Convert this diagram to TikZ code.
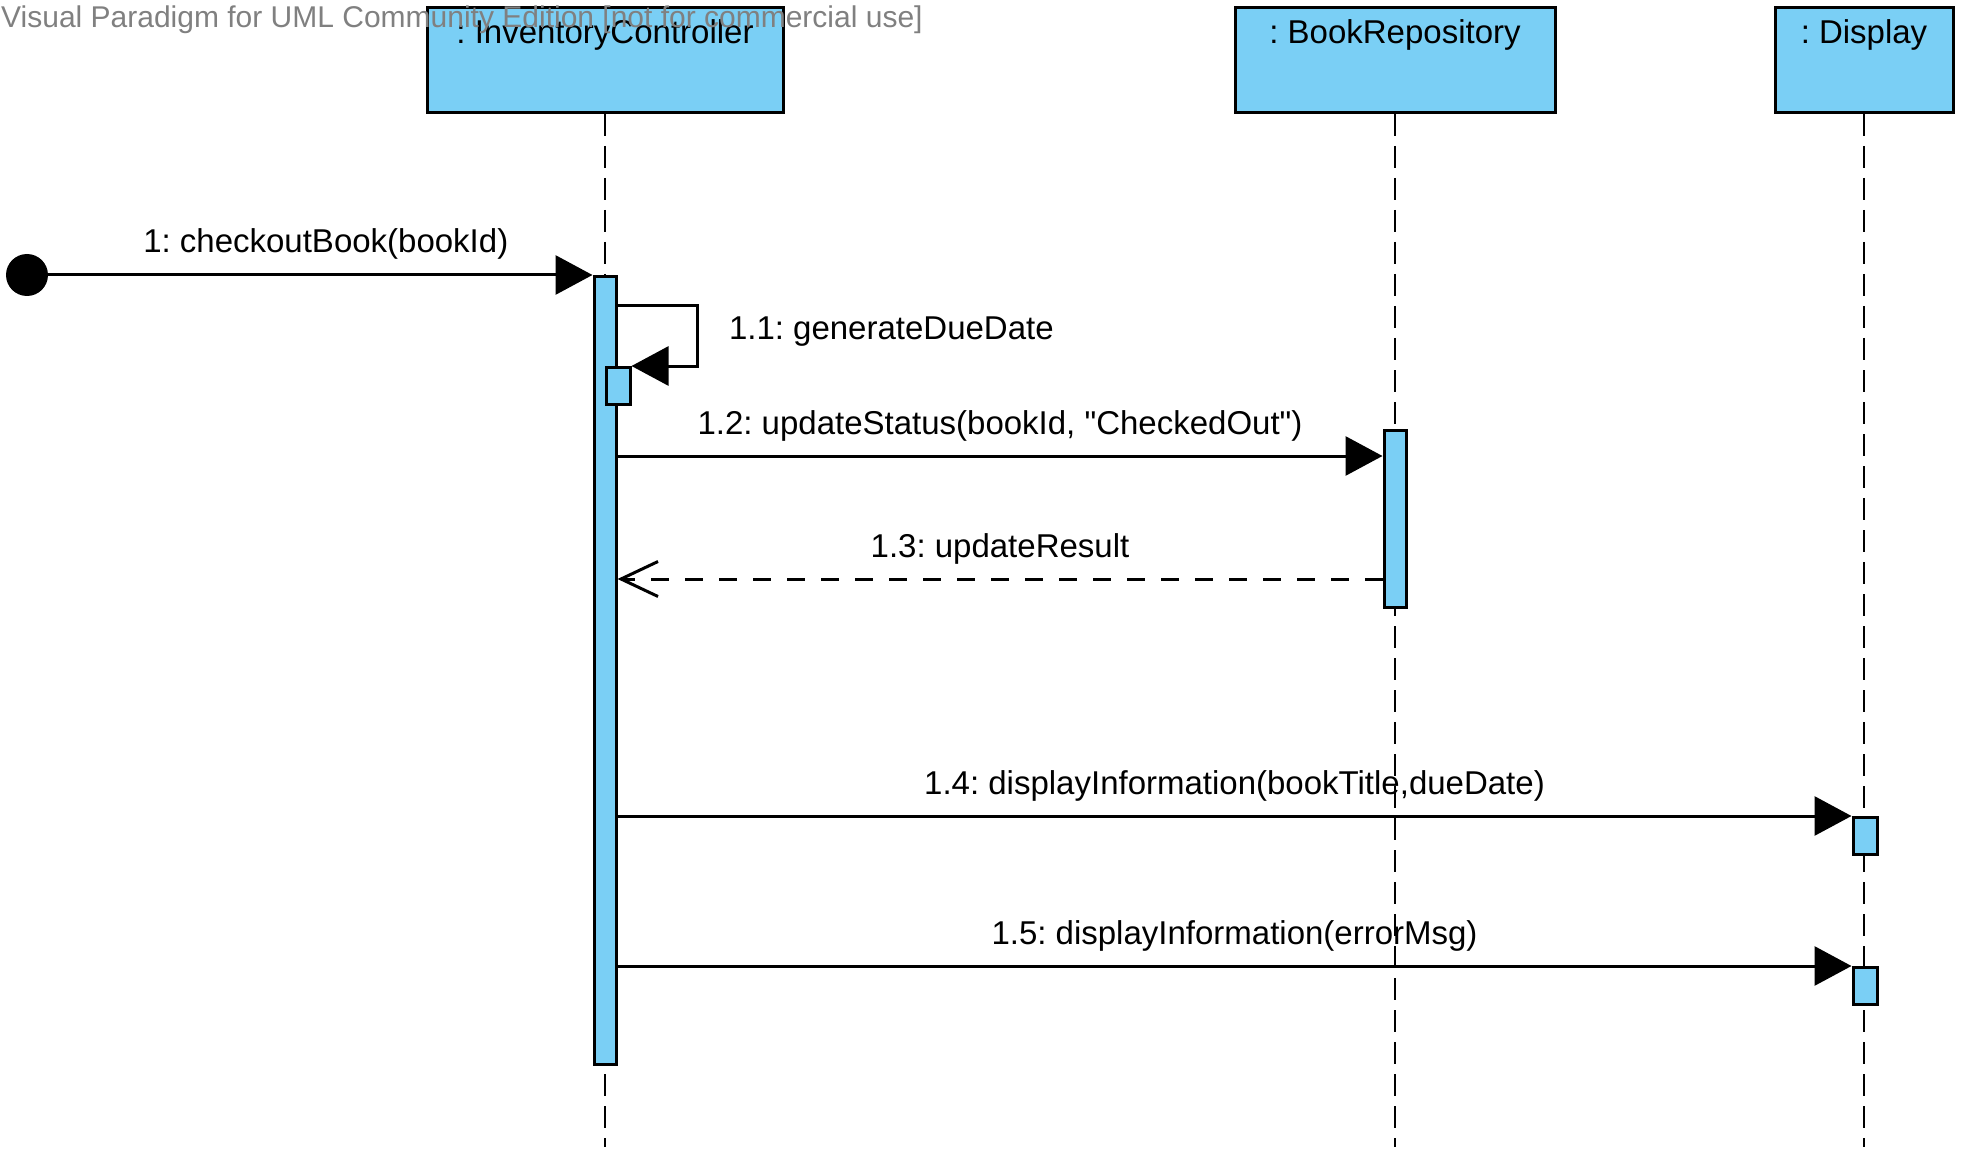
\documentclass[tikz,border=0pt]{standalone}
\usepackage{fontspec}
\setmainfont{Liberation Sans}
\usepackage{tikz}
\usetikzlibrary{arrows.meta, calc}

\definecolor{vpblue}{RGB}{122,207,245}
\definecolor{vpgray}{RGB}{128,128,128}
\newcommand\msgfont{\fontsize{33}{40}\selectfont}
\newcommand\wmfont{\fontsize{30}{36}\selectfont}
\frenchspacing

\begin{document}
\begin{tikzpicture}[
    x=1pt, y=-1pt,
    head/.style   = {draw, line width=3pt, fill=vpblue, anchor=north,
                     minimum height=105pt, inner ysep=0pt,
                     text height=36pt, text depth=69pt, font=\msgfont},
    act/.style    = {draw, line width=3pt, fill=vpblue, anchor=north,
                     minimum width=22pt, inner sep=0pt},
    life/.style   = {line width=2.5pt, dash pattern=on 22pt off 10pt},
    msg/.style    = {line width=3pt, -{Triangle[length=37pt, width=39pt]}},
    ret/.style    = {line width=3pt, dash pattern=on 18pt off 16pt,
                     -{Straight Barb[length=37pt, width=35pt]}},
    lbl/.style    = {font=\msgfont, inner sep=0pt},
    msglbl/.style = {lbl, anchor=base, yshift=22pt},
  ]
  \useasboundingbox (0,0) rectangle (1968,1158);

  \node[head, minimum width=356pt] (ic)   at (605,6)  {: InventoryController};
  \node[head, minimum width=320pt] (repo) at (1395,6) {: BookRepository};
  \node[head, minimum width=178pt] (disp) at (1864,6) {: Display};

  \coordinate (icEnd)   at (605,1147);
  \coordinate (repoEnd) at (1395,1147);
  \coordinate (dispEnd) at (1864,1147);
  \draw[life] (ic) -- (icEnd);
  \draw[life] (repo) -- (repoEnd);
  \draw[life] (disp) -- (dispEnd);

  \node[circle, fill, minimum size=42pt, inner sep=0pt] (init) at (27,275) {};

  \node[act, minimum height=788pt] (icAct) at (605,275) {};
  \node[act, minimum width=24pt, minimum height=37pt] (gen) at (618,366) {};
  \node[act, minimum height=177pt] (repoAct) at (1395,429) {};
  \node[act, minimum width=24pt, minimum height=37pt] (dispAct1) at (1865,816) {};
  \node[act, minimum width=24pt, minimum height=37pt] (dispAct2) at (1865,966) {};

  \draw[msg] (init) -- node[msglbl, pos=.51] {1: checkoutBook(bookId)} (icAct.north west);

  \draw[msg] ($(icAct.north east)+(0,31)$) -- ++(80,0)
    node[lbl, anchor=base west, xshift=30pt, yshift=-34pt] {1.1: generateDueDate}
    |- (gen.north east);

  \coordinate (upd) at ($(repoAct.north west)+(0,27)$);
  \draw[msg] (icAct.east |- upd) -- node[msglbl]
    {1.2: updateStatus(bookId, \textquotedbl CheckedOut\textquotedbl)} (upd);

  \coordinate (res) at ($(repoAct.south west)+(0,-30)$);
  \draw[ret] (res) -- node[msglbl] {1.3: updateResult} (icAct.east |- res);

  \draw[msg] (icAct.east |- dispAct1.north west) --
    node[msglbl] {1.4: displayInformation(bookTitle,dueDate)} (dispAct1.north west);
  \draw[msg] (icAct.east |- dispAct2.north west) --
    node[msglbl] {1.5: displayInformation(errorMsg)} (dispAct2.north west);

  \node[lbl, font=\wmfont, text=vpgray, anchor=base west] (wm) at (1,28)
    {Visual Paradigm for UML Community Edition [not for commercial use]};
\end{tikzpicture}
\end{document}
